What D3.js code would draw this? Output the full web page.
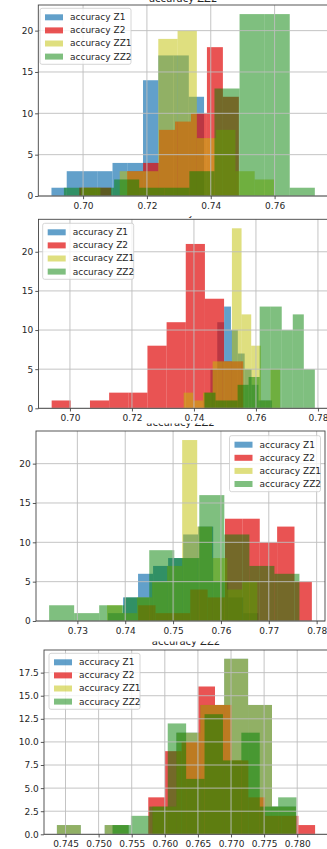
<!DOCTYPE html>
<html lang="en">
<head>
<meta charset="utf-8">
<title>accuracy histograms</title>
<script src="https://d3js.org/d3.v7.min.js"></script>
<style>
  body { margin: 0; background: #fff; }
  svg text { font-family: "DejaVu Sans", sans-serif; }
  .axis path, .axis line { stroke: #444; stroke-width: 0.9; }
  .axis text { font-size: 9px; fill: #262626; }
  .grid line { stroke: #bdbdbd; stroke-width: 0.9; }
</style>
</head>
<body>
<script>
var seriesNames = ["accuracy Z1", "accuracy Z2", "accuracy ZZ1", "accuracy ZZ2"];
var titleText = "accuracy ZZ2";

// value range [min, max] of each series, then counts of its 10 equal bins
var p1Ranges = [[0.6901, 0.7379], [0.6988, 0.7488], [0.6994, 0.7598], [0.6940, 0.7726]];
var p1Counts = [
  [1, 3, 3, 3, 4, 4, 14, 17, 17, 12],
  [1, 1, 0, 3, 4, 8, 9, 10, 18, 12],
  [1, 0, 3, 3, 19, 20, 7, 8, 3, 2],
  [1, 1, 2, 1, 1, 3, 13, 22, 22, 1]
];

var p2Ranges = [[0.7431, 0.7652], [0.6941, 0.7559], [0.7367, 0.7678], [0.7434, 0.7790]];
var p2Counts = [
  [2, 5, 11, 13, 10, 7, 5, 3, 1, 1],
  [1, 0, 1, 2, 2, 8, 11, 21, 14, 6],
  [2, 1, 2, 6, 6, 23, 12, 8, 1, 5],
  [2, 1, 1, 3, 4, 13, 13, 10, 12, 5]
];

var p3Ranges = [[0.7364, 0.7678], [0.7427, 0.7790], [0.7362, 0.7676], [0.7241, 0.7764]];
var p3Counts = [
  [1, 3, 6, 7, 8, 11, 12, 5, 3, 1],
  [2, 1, 1, 4, 3, 13, 13, 10, 12, 5],
  [2, 1, 3, 5, 7, 23, 12, 8, 4, 5],
  [2, 1, 2, 3, 9, 8, 16, 11, 7, 6]
];

var p4Ranges = [[0.7437, 0.7798], [0.7575, 0.7827], [0.7437, 0.7798], [0.7521, 0.7799]];
var p4Counts = [
  [1, 0, 1, 0, 3, 11, 14, 19, 14, 3],
  [4, 9, 10, 16, 14, 8, 4, 2, 2, 1],
  [1, 0, 1, 0, 3, 11, 14, 19, 14, 3],
  [1, 2, 3, 12, 6, 13, 8, 11, 3, 4]
];

var p1XTicks = [0.70, 0.72, 0.74, 0.76];
var p2XTicks = [0.70, 0.72, 0.74, 0.76, 0.78];
var p3XTicks = [0.73, 0.74, 0.75, 0.76, 0.77, 0.78];
var p4XTicks = [0.745, 0.750, 0.755, 0.760, 0.765, 0.770, 0.775, 0.780];
var yTicksInt = [0, 5, 10, 15, 20];
var p4YTicks = [0, 2.5, 5, 7.5, 10, 12.5, 15, 17.5];

var colors = ["#1f77b4", "#e00a0a", "#bfbf00", "#008000"];
var alphas = [0.7, 0.7, 0.5, 0.5];

var W = 327, H = 849;

var panels = [
  {ranges: p1Ranges, counts: p1Counts, xTicks: p1XTicks, yTicks: yTicksInt, xFmt: ".2f", yFmt: "d",
   clip: [0, 216], left: 38.3, right: 328, top: 5, bottom: 196, titleY: 1.8, legend: [40, 8.3]},
  {ranges: p2Ranges, counts: p2Counts, xTicks: p2XTicks, yTicks: yTicksInt, xFmt: ".2f", yFmt: "d",
   clip: [216, 423.5], left: 38.5, right: 328, top: 219.3, bottom: 408.3, titleY: 216.4, legend: [42.7, 223.3]},
  {ranges: p3Ranges, counts: p3Counts, xTicks: p3XTicks, yTicks: yTicksInt, xFmt: ".2f", yFmt: "d",
   clip: [423.5, 641.5], left: 36, right: 325, top: 431, bottom: 621, titleY: 426.3, legend: [229.5, 435.7]},
  {ranges: p4Ranges, counts: p4Counts, xTicks: p4XTicks, yTicks: p4YTicks, xFmt: ".3f", yFmt: ".1f",
   clip: [641.5, 849], left: 44, right: 328, top: 650, bottom: 834.3, titleY: 644.6, legend: [49, 653.3]}
];

var svg = d3.select("body").append("svg")
    .attr("width", W)
    .attr("height", H);

panels.forEach(function(p, pi) {
  var lo = d3.min(p.ranges, function(r) { return r[0]; });
  var hi = d3.max(p.ranges, function(r) { return r[1]; });
  var pad = (hi - lo) * 0.05;
  var maxCount = d3.max(p.counts, function(c) { return d3.max(c); });

  var x = d3.scaleLinear().domain([lo - pad, hi + pad]).range([p.left, p.right]);
  var y = d3.scaleLinear().domain([0, maxCount * 1.05]).range([p.bottom, p.top]);

  svg.append("clipPath").attr("id", "clip" + pi)
    .append("rect")
    .attr("x", 0).attr("y", p.clip[0])
    .attr("width", W).attr("height", p.clip[1] - p.clip[0]);

  var g = svg.append("g").attr("clip-path", "url(#clip" + pi + ")");

  // title, mostly cut off by the crop above
  g.append("text")
    .attr("x", (p.left + p.right) / 2)
    .attr("y", p.titleY)
    .attr("text-anchor", "middle")
    .style("font-size", "10px")
    .style("fill", "#262626")
    .text(titleText);

  // histograms, drawn in series order
  p.counts.forEach(function(counts, si) {
    var edge = d3.scaleLinear().domain([0, counts.length]).range(p.ranges[si]);
    var bins = counts.map(function(c, i) { return {x0: edge(i), x1: edge(i + 1), n: c}; })
      .filter(function(b) { return b.n > 0; });
    g.append("g").selectAll("rect")
      .data(bins)
      .enter()
      .append("rect")
      .attr("x", function(b) { return x(b.x0); })
      .attr("width", function(b) { return x(b.x1) - x(b.x0); })
      .attr("y", function(b) { return y(b.n); })
      .attr("height", function(b) { return y(0) - y(b.n); })
      .attr("fill", colors[si])
      .attr("fill-opacity", alphas[si]);
  });

  // grid above the bars, like matplotlib
  var grid = g.append("g").attr("class", "grid");
  grid.selectAll(".gx").data(p.xTicks).enter().append("line")
    .attr("x1", function(d) { return x(d); }).attr("x2", function(d) { return x(d); })
    .attr("y1", p.top).attr("y2", p.bottom);
  grid.selectAll(".gy").data(p.yTicks).enter().append("line")
    .attr("x1", p.left).attr("x2", p.right)
    .attr("y1", function(d) { return y(d); }).attr("y2", function(d) { return y(d); });

  // frame
  g.append("rect")
    .attr("x", p.left).attr("y", p.top)
    .attr("width", p.right - p.left).attr("height", p.bottom - p.top)
    .attr("fill", "none")
    .attr("stroke", "#444")
    .attr("stroke-width", 0.9);

  g.append("g")
    .attr("class", "axis")
    .attr("transform", "translate(0," + p.bottom + ")")
    .call(d3.axisBottom(x).tickValues(p.xTicks).tickFormat(d3.format(p.xFmt))
      .tickSize(3.2).tickSizeOuter(0).tickPadding(3))
    .select(".domain").remove();

  g.append("g")
    .attr("class", "axis")
    .attr("transform", "translate(" + p.left + ",0)")
    .call(d3.axisLeft(y).tickValues(p.yTicks).tickFormat(d3.format(p.yFmt))
      .tickSize(3.2).tickSizeOuter(0).tickPadding(2))
    .select(".domain").remove();

  // legend
  var lg = g.append("g").attr("transform", "translate(" + p.legend[0] + "," + p.legend[1] + ")");
  lg.append("rect")
    .attr("width", 91).attr("height", 56)
    .attr("rx", 2)
    .attr("fill", "#fff").attr("fill-opacity", 0.8)
    .attr("stroke", "#cccccc").attr("stroke-width", 0.8);
  seriesNames.forEach(function(name, si) {
    var cy = 9 + si * 13.1;
    lg.append("rect")
      .attr("x", 5).attr("y", cy - 3)
      .attr("width", 18).attr("height", 6)
      .attr("fill", colors[si]).attr("fill-opacity", alphas[si]);
    lg.append("text")
      .attr("x", 30).attr("y", cy)
      .attr("dominant-baseline", "central")
      .style("font-size", "9px")
      .style("fill", "#262626")
      .text(name);
  });
});
</script>
</body>
</html>
